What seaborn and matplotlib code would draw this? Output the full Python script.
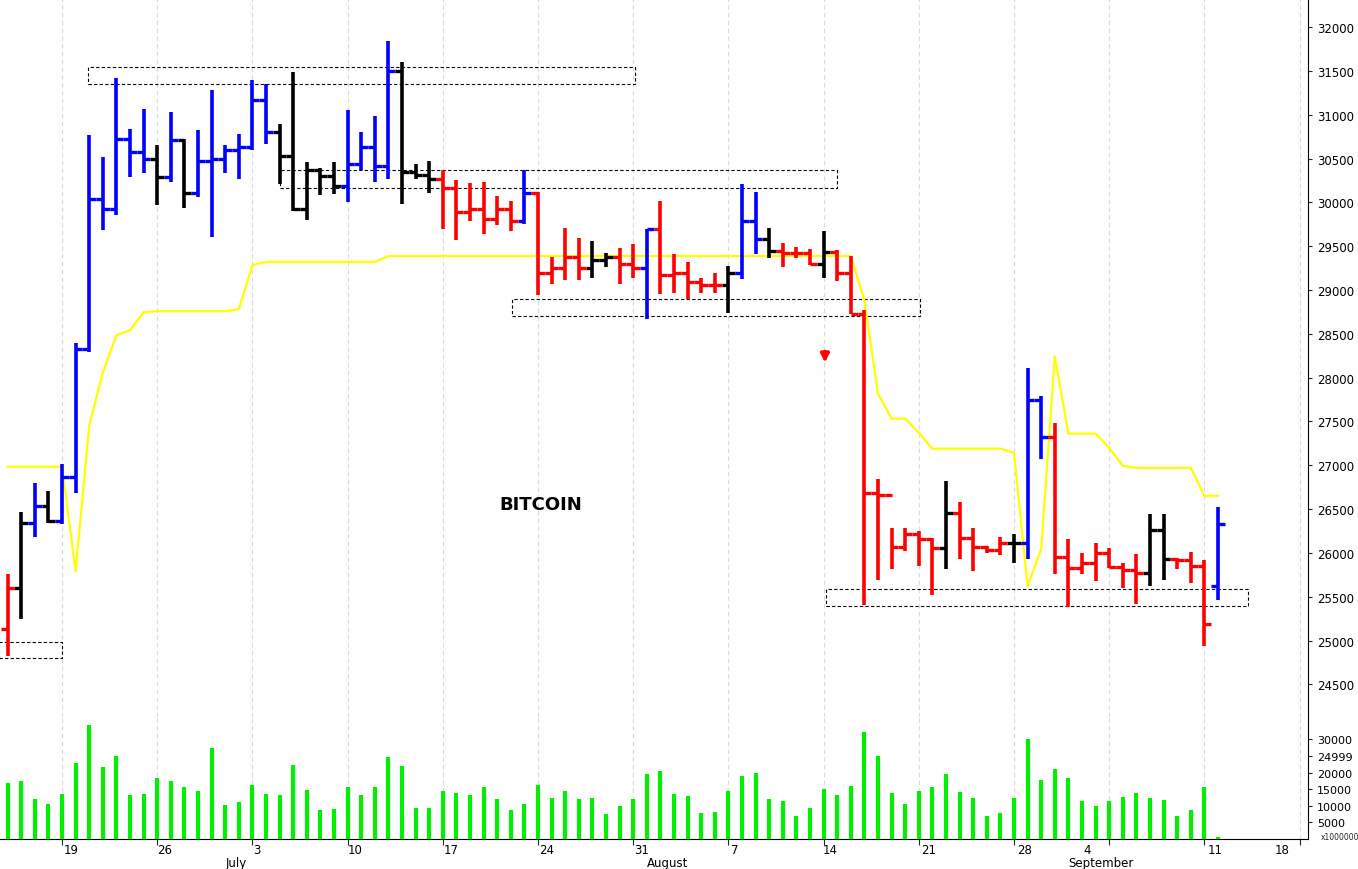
import numpy as np
import matplotlib
matplotlib.use("Agg")
import matplotlib.pyplot as plt
import seaborn as sns

days = list(range(-4, 86))
highs = [25759,26469,26797,26703,27012,28400,30771,30518,31416,30832,31065,30654,31028,30729,30822,31285,30659,30785,31402,31355,
         30892,31486,30458,30397,30458,31051,30808,30981,31846,31603,30434,30467,30364,30251,30221,30232,30076,30011,30366,30114,
         29381,29705,29591,29560,29419,29476,29522,29698,30011,29407,29323,29133,29190,29278,30209,30114,29713,29533,29495,29468,
         29675,29457,29388,28770,26842,26281,26288,26250,26166,26815,26586,26281,26078,26185,26219,28113,27796,27483,26155,26002,
         26109,26059,25887,25983,26441,26441,25945,26009,25914,26529]
lows = [24824,25244,26179,26343,26329,26680,28297,29686,29859,30294,30341,29967,30233,29934,30060,29607,30341,30271,30598,30668,
        30214,29906,29794,30083,30093,29999,30364,30238,30271,29976,30271,30107,29700,29572,29793,29640,29743,29675,29755,28942,
        29064,29113,29113,29133,29266,29064,29140,28667,28953,28961,28896,28968,28968,28739,29125,29411,29369,29266,29362,29285,
        29140,29106,28724,25410,25685,25811,26021,25849,25525,25811,25925,25792,26002,25971,25887,25925,27071,25754,25380,25754,
        25677,25830,25601,25418,25620,25685,25811,25651,24940,25460]
closes = [25595,26343,26530,26366,26867,28330,30037,29929,30724,30574,30495,30284,30715,30107,30467,30490,30598,30631,31173,30799,
          30528,29929,30364,30303,30191,30434,30631,30411,31500,30350,30317,30271,30163,29885,29923,29812,29927,29789,30106,29198,
          29247,29373,29247,29343,29373,29297,29247,29698,29171,29198,29087,29056,29056,29198,29789,29579,29449,29419,29427,29293,
          29438,29198,28724,26689,26662,26067,26219,26155,26052,26452,26174,26067,26029,26116,26116,27750,27327,25956,25822,25887,
          25994,25841,25803,25765,26261,25933,25918,25849,25189,26326]
opens = [25137,25595,26343,26530,26366,26867,28330,30037,29929,30724,30574,30495,30284,30715,30107,30467,30490,30598,30631,31173,
         30799,30528,29929,30364,30303,30191,30434,30631,30411,31500,30350,30317,30271,30163,29885,29923,29812,29927,29789,30106,
         29198,29247,29373,29247,29343,29373,29297,29247,29698,29171,29198,29087,29056,29056,29198,29789,29579,29449,29419,29427,
         29293,29438,29198,28724,26689,26662,26067,26219,26155,26052,26452,26174,26067,26029,26116,26116,27750,27327,25956,25822,
         25887,25994,25841,25803,25765,26261,25933,25918,25849,25620]
colors = list("rkbkbbbbbbbkbkbbbbbb" + "kkkkkbbbbkkkrrrrrrbr" + "rrrkkrrbrrrrrkbbkrrr" + "krrrrrrrrkrrrrkbbrrr" + "rrrrkkrrrb")
yellow = ([26983]*5 + [25791,27452,28059,28483,28541,28747] + [28758]*6 + [28781,29285] + [29320]*9 + [29388]*35 +
          [28884,27819,27532,27532,27372] + [27189]*6 + [27143,25620,26044,28243,27361,27361,27361,27200,26994] +
          [26971]*5 + [26651,26651])
volume = [16744,17342,11960,10465,13455,23023,34385,21528,25116,13156,13455,18239,17342,15548,14352,27508,10166,11063,16146,13455,
          13156,22126,14651,8671,8970,15548,13156,15548,24817,21827,9269,9269,14352,13754,13156,15548,11960,8671,10465,16146,
          12259,14352,11960,12259,7475,9867,11960,19435,20332,13455,12857,7774,8073,14352,18837,19734,11960,11362,6877,9269,
          14950,13156,15847,32292,25116,13754,10465,14352,15548,19435,14053,12259,6877,7774,12259,30199,17641,20930,18239,11362,
          9867,11362,12558,13754,12259,11661,6877,8671,15548,598]
week_days = [0,7,14,21,28,35,42,49,56,63,70,77,84,91]
week_labels = ["19","26","3","10","17","24","31","7","14","21","28","4","11","18"]
label_pos = [0.66,7.57,14.34,21.54,28.6,35.6,42.65,49.5,56.5,63.7,70.8,75.4,84.8,89.7]
months = ["July","August","September"]
month_start = [12,43,74]
boxes = [(1.9,42.1,31347,31542),(16,57,30167,30373),(33.1,63.1,28701,28896),(56.2,87.2,25390,25585),(-4.6,0,24806,24978)]

sns.set_style("white")
fig = plt.figure(figsize=(13.58, 8.7), dpi=100)
ax = fig.add_axes([0, 0.175, 0.963, 0.825])
axv = fig.add_axes([0, 0.0345, 0.963, 0.1405], sharex=ax)
cmap = {"r": "#ff0000", "k": "#000000", "b": "#0000ff"}
cols = [cmap[c] for c in colors]
d = np.array(days)
ax.vlines(d, lows, highs, colors=cols, lw=2.6, zorder=3)
ax.hlines(opens, d - 0.5, d, colors=cols, lw=2.4, zorder=3)
ax.hlines(closes, d, d + 0.5, colors=cols, lw=2.4, zorder=3)
sns.lineplot(x=days, y=yellow, color="#ffff00", lw=1.6, ax=ax, zorder=2)
for x0, x1, y0, y1 in boxes:
    ax.plot([x0, x1, x1, x0, x0], [y0, y0, y1, y1, y0], color="black", lw=0.8, ls=(0, (3, 2)), zorder=1)
ax.annotate("", xy=(56.1, 28140), xytext=(56.1, 28330),
            arrowprops=dict(arrowstyle="-|>", color="red", lw=2.5, mutation_scale=12))
ax.text(35.2, 26559, "BITCOIN", fontsize=13, fontweight="bold", ha="center", va="center", color="black")

ax.set_xlim(-4.56, 91.6)
ax.set_ylim(24130, 32321)
ax.set_yticks(np.arange(24500, 32001, 500))
ax.yaxis.tick_right()
ax.tick_params(axis="y", labelsize=8.5, length=3, direction="out", right=True, labelcolor="black")
ax.tick_params(axis="x", bottom=False, labelbottom=False)
for w in week_days:
    ax.axvline(w, color="#d8d8e8", lw=0.8, ls=(0, (4, 3)), zorder=0)
    axv.axvline(w, color="#d8d8e8", lw=0.8, ls=(0, (4, 3)), zorder=0)
for s in ["top", "left", "bottom"]:
    ax.spines[s].set_visible(False)
ax.spines["right"].set_color("black")
ax.set_xlabel(""); ax.set_ylabel("")

axv.vlines(d, 0, volume, colors="#00ee00", lw=3, zorder=3)
axv.set_ylim(0, 36800)
axv.set_yticks([5000, 10000, 15000, 20000, 24999, 30000])
axv.yaxis.tick_right()
axv.tick_params(axis="y", labelsize=8, length=3, right=True, labelcolor="black")
axv.set_xticks(week_days)
axv.set_xticklabels([])
axv.tick_params(axis="x", length=4, bottom=True, direction="out")
for s in ["top", "left"]:
    axv.spines[s].set_visible(False)
axv.spines["bottom"].set_color("black")
axv.spines["right"].set_color("black")
for p, lab in zip(label_pos, week_labels):
    axv.text(p, -0.03, lab, transform=axv.get_xaxis_transform(), ha="center", va="top", fontsize=8.5, color="black")
for p, lab in zip(month_start, months):
    axv.text(p, -0.14, lab, transform=axv.get_xaxis_transform(), ha="left", va="top", fontsize=8.5, color="black")
fig.text(0.987, 0.037, "x1000000", fontsize=5.5, ha="center", va="center")
fig.savefig("out.png", dpi=100)
